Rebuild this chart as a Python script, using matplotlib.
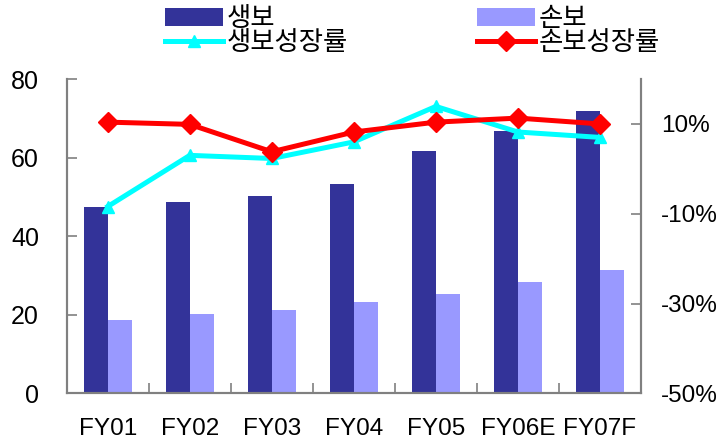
import matplotlib
matplotlib.use("Agg")
import matplotlib.pyplot as plt
import numpy as np
from matplotlib.ticker import FuncFormatter

plt.rcParams['font.family'] = ['Liberation Sans', 'Noto Sans CJK KR', 'DejaVu Sans']

years = ["FY01", "FY02", "FY03", "FY04", "FY05", "FY06E", "FY07F"]
life = [47.3, 48.8, 50.3, 53.4, 61.6, 66.7, 71.8]
nonlife = [18.7, 20.2, 21.3, 23.3, 25.3, 28.4, 31.5]
life_growth = [-8.4, 3.0, 2.3, 6.0, 13.9, 8.2, 7.0]
nonlife_growth = [10.4, 9.9, 3.8, 8.2, 10.4, 11.3, 10.0]

DARK = "#333399"
LIGHT = "#9999FF"
GREY = "#808080"
W, H = 721, 444

fig = plt.figure(figsize=(W / 100, H / 100), dpi=100)
ax = fig.add_axes([0.0925, 0.1142, 0.889 - 0.0925, 0.822 - 0.1142])
ax2 = ax.twinx()

x = np.arange(len(years))
w = 0.29
b1 = ax.bar(x - w / 2, life, w, color=DARK, label="생보")
b2 = ax.bar(x + w / 2, nonlife, w, color=LIGHT, label="손보")

l1, = ax2.plot(x, life_growth, color="#00FFFF", lw=3.6, marker="^", ms=9,
               label="생보성장률", zorder=3)
l2, = ax2.plot(x, nonlife_growth, color="#FF0000", lw=3.6, marker="D", ms=10.5,
               label="손보성장률", zorder=4)

ax.set_xlim(-0.5, len(years) - 0.5)
ax.set_ylim(0, 80)
ax.set_yticks([0, 20, 40, 60, 80])
ax2.set_ylim(-50, 20)
ax2.set_yticks([-50, -30, -10, 10])
ax2.yaxis.set_major_formatter(FuncFormatter(lambda v, p: f"{v:.0f}%"))

ax.set_xticks(x)
ax.set_xticklabels(years)
ax.set_xticks(np.arange(-0.5, len(years)), minor=True)
ax.tick_params(axis="x", which="major", length=0, pad=18, labelsize=17.5)
ax.tick_params(axis="x", which="minor", direction="in", length=7, color=GREY, width=1.2)
ax.tick_params(axis="y", direction="in", length=7, color=GREY, width=1.2, pad=20, labelsize=18)
ax2.tick_params(axis="y", direction="in", length=7, color=GREY, width=1.2, pad=14.5, labelsize=17.5)

for a in (ax, ax2):
    a.spines["top"].set_visible(False)
    for s in ("left", "right", "bottom"):
        a.spines[s].set_color(GREY)
        a.spines[s].set_linewidth(1.5)


# one legend per entry so each can sit where the reference puts it
def put_legend(handle, label, px, py):
    lg = fig.legend([handle], [label], loc="center left",
                    bbox_to_anchor=(px / W, 1 - py / H), frameon=False,
                    handlelength=2.19, handleheight=0.65, handletextpad=0.15,
                    borderpad=0, borderaxespad=0,
                    prop={"family": ["Noto Sans CJK KR"], "size": 19})
    return lg


put_legend(b1, "생보", 165, 19)
put_legend(l1, "생보성장률", 165, 42.5)
put_legend(b2, "손보", 477, 19)
put_legend(l2, "손보성장률", 477, 42.5)

fig.savefig("out.png", dpi=100)
